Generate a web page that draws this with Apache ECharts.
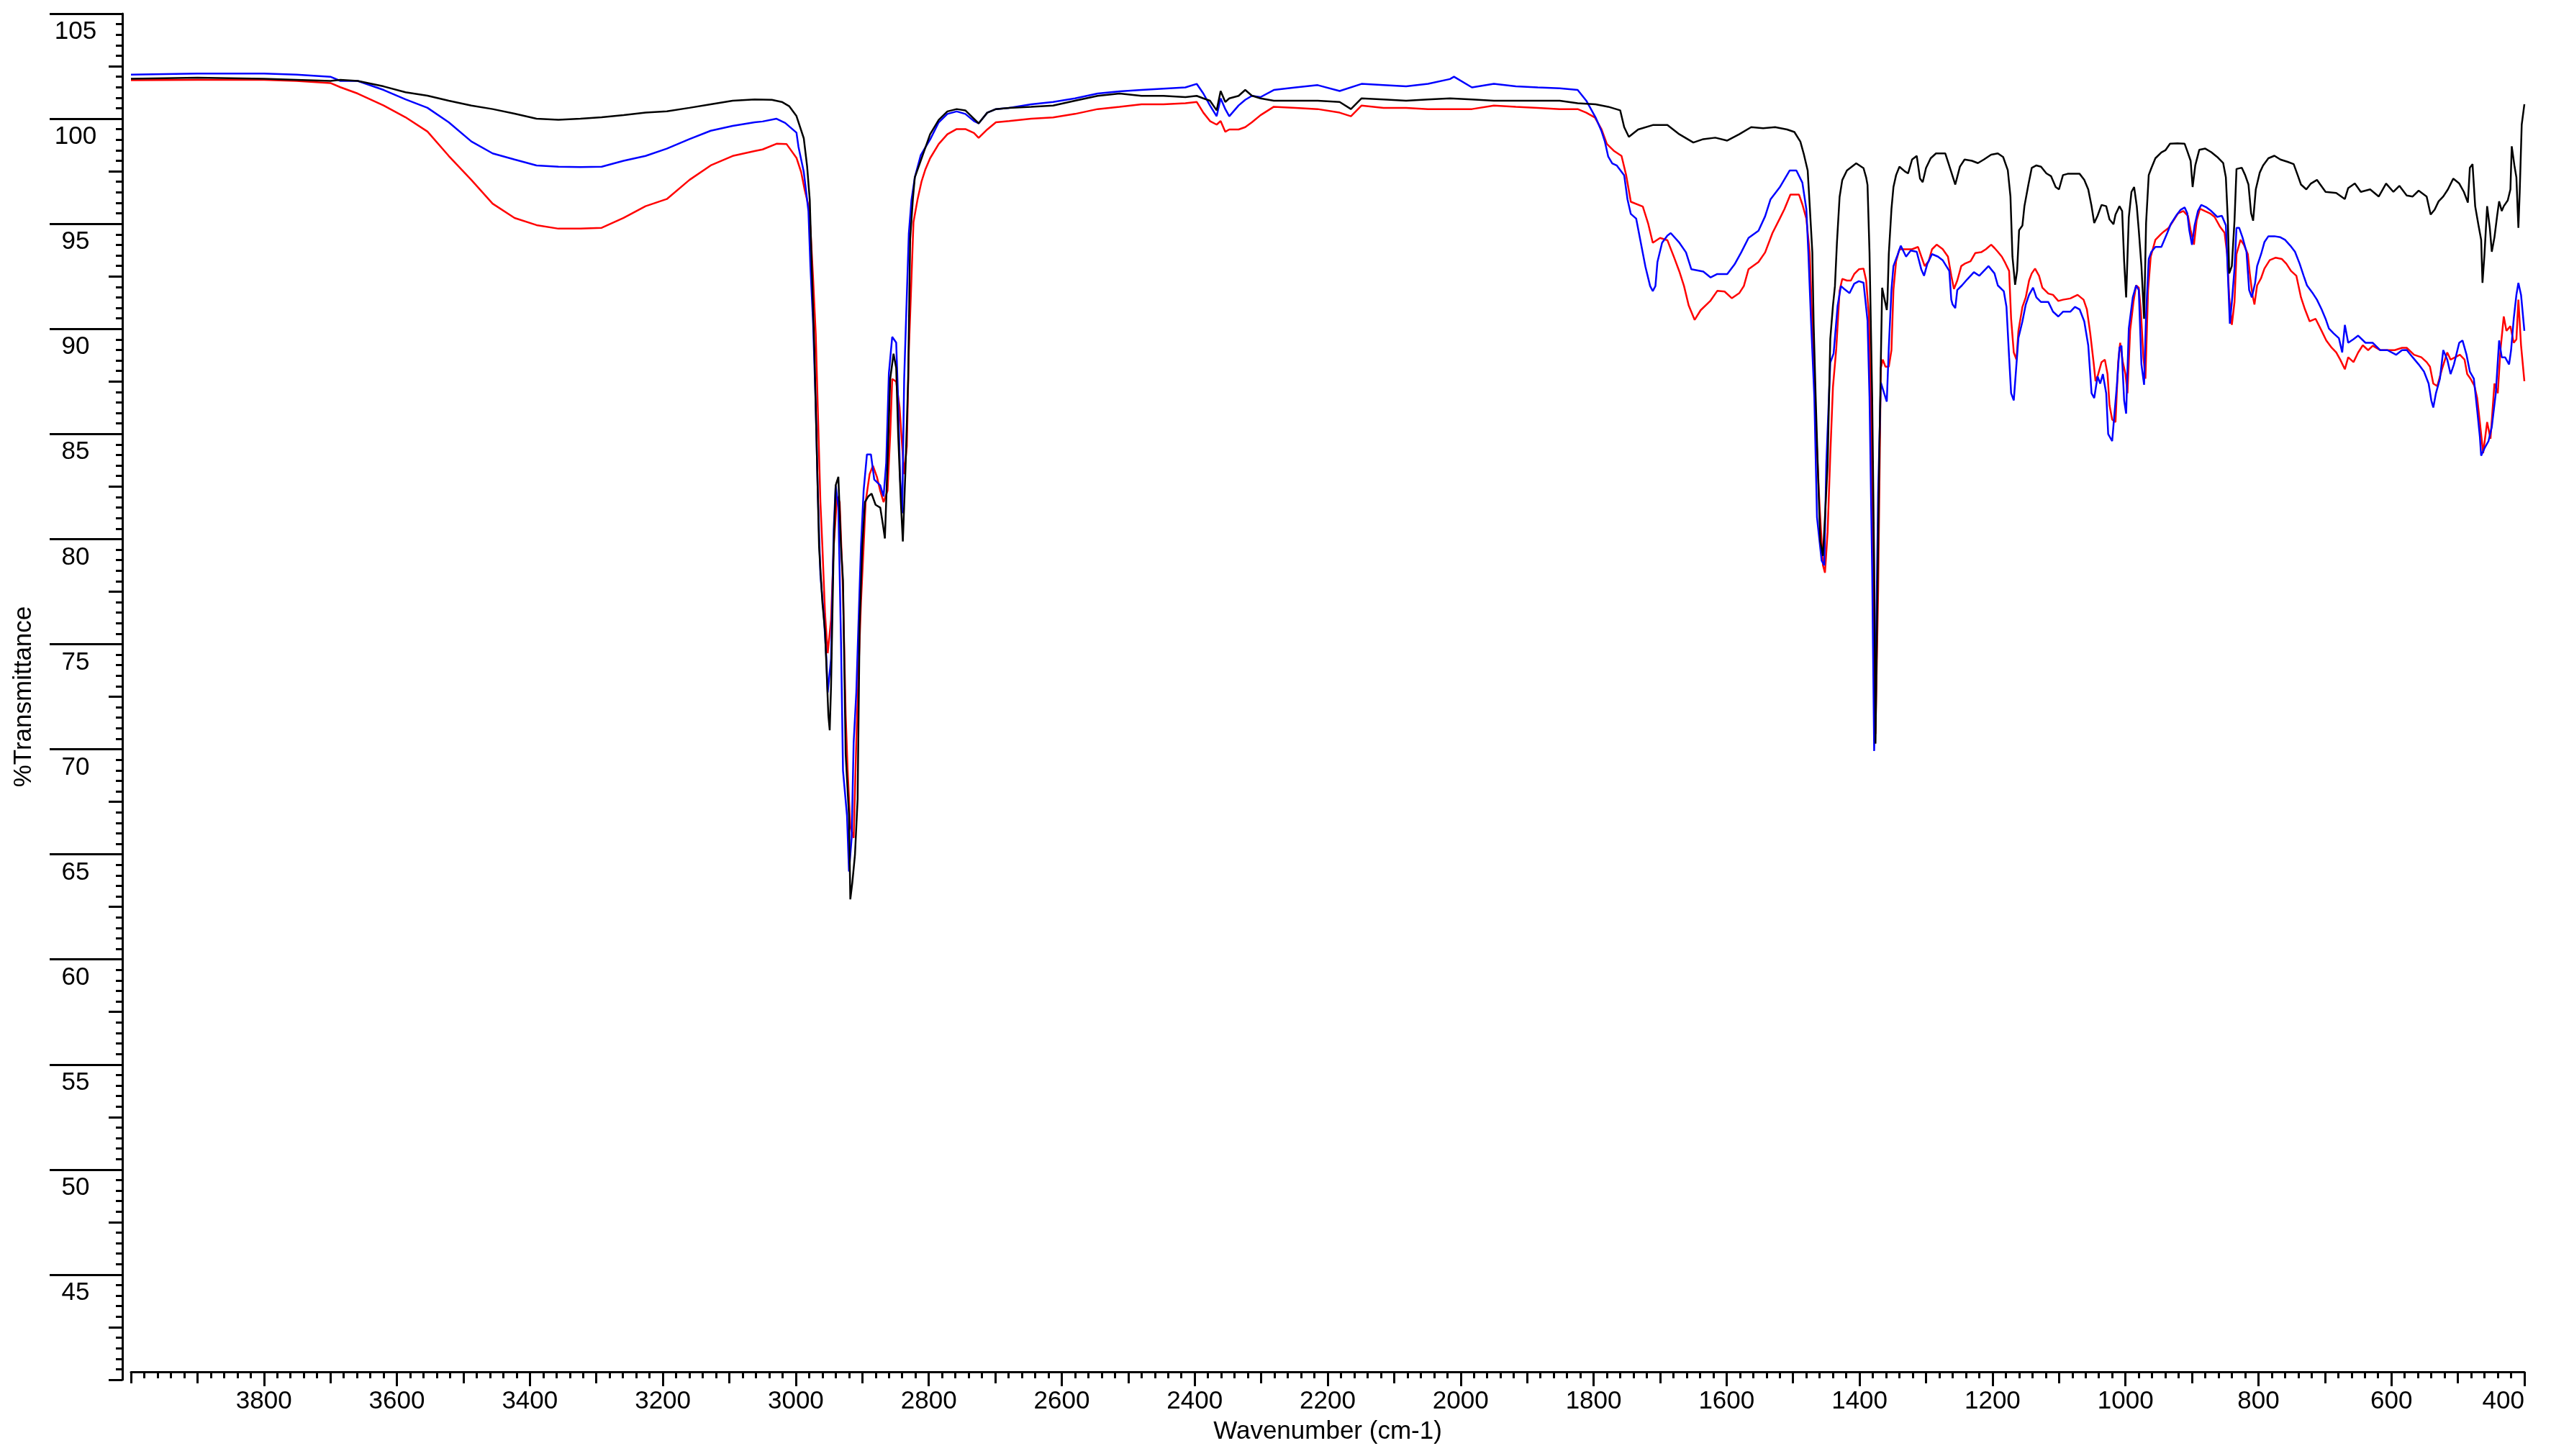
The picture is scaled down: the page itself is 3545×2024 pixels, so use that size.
<!DOCTYPE html>
<html>
<head>
<meta charset="utf-8">
<title>IR spectra</title>
<script src="https://cdn.jsdelivr.net/npm/echarts@6.0.0/dist/echarts.min.js"></script>
<style>
  html, body { margin: 0; padding: 0; background: #fff; }
  #chart { width: 3545px; height: 2024px; }
</style>
</head>
<body>
<div id="chart"></div>
<script>
// [wavenumber, %T]
var blackPts = [[4000,101.9],[3900,101.95],[3800,101.9],[3751,101.85],[3700,101.8],[3685,101.85],[3659,101.8],[3620,101.54],[3587,101.26],[3554,101.1],[3522,100.86],[3488,100.63],[3456,100.46],[3423,100.24],[3390,100.0],[3357,99.95],[3324,100.0],[3292,100.07],[3259,100.17],[3226,100.29],[3194,100.35],[3160,100.52],[3128,100.69],[3095,100.86],[3062,100.92],[3036,100.9],[3021,100.8],[3010,100.6],[2999,100.13],[2988,99.07],[2983,97.74],[2979,96.14],[2976,92.95],[2972,88.95],[2969,84.95],[2965,79.63],[2960,76.97],[2956,75.6],[2951,71.6],[2949,70.9],[2947,72.97],[2943,79.63],[2940,82.56],[2936,82.96],[2932,79.63],[2929,78.03],[2925,69.77],[2920,66.85],[2918,62.86],[2915,63.65],[2911,64.98],[2907,67.65],[2904,75.9],[2900,79.63],[2896,81.76],[2891,82.03],[2886,82.16],[2880,81.63],[2873,81.5],[2869,80.7],[2866,80.03],[2862,83.63],[2858,87.62],[2853,88.82],[2849,88.15],[2846,84.96],[2842,81.76],[2839,79.89],[2835,83.36],[2831,87.62],[2828,94.28],[2824,96.14],[2821,97.21],[2811,98.1],[2798,99.26],[2785,99.95],[2772,100.35],[2758,100.46],[2745,100.4],[2732,100.0],[2725,99.78],[2712,100.29],[2699,100.46],[2679,100.52],[2646,100.57],[2613,100.63],[2580,100.86],[2546,101.09],[2513,101.2],[2480,101.09],[2447,101.09],[2414,101.03],[2397,101.09],[2387,100.97],[2377,100.86],[2367,100.4],[2361,101.32],[2354,100.8],[2348,100.97],[2334,101.09],[2324,101.37],[2314,101.1],[2301,100.97],[2281,100.86],[2248,100.86],[2215,100.86],[2182,100.8],[2165,100.46],[2149,100.97],[2116,100.92],[2082,100.86],[2049,100.92],[2016,100.97],[1983,100.92],[1950,100.86],[1917,100.86],[1884,100.86],[1851,100.86],[1824,100.74],[1797,100.69],[1778,100.57],[1760,100.4],[1754,99.6],[1747,99.14],[1733,99.49],[1711,99.7],[1689,99.7],[1671,99.26],[1650,98.87],[1635,99.03],[1617,99.1],[1599,98.96],[1581,99.26],[1563,99.6],[1545,99.55],[1527,99.6],[1509,99.49],[1498,99.37],[1489,98.91],[1484,98.34],[1478,97.54],[1475,95.9],[1471,93.64],[1469,90.2],[1466,86.77],[1462,82.64],[1459,79.89],[1455,79.2],[1452,81.04],[1448,83.56],[1444,89.52],[1440,91.1],[1437,92.04],[1434,94.1],[1430,96.28],[1426,97.08],[1419,97.54],[1405,97.88],[1394,97.65],[1390,97.2],[1388,96.85],[1385,93.64],[1381,86.77],[1378,78.75],[1376,70.27],[1373,77.6],[1370,84.5],[1368,88.4],[1366,91.96],[1363,91.5],[1359,90.9],[1358,91.4],[1356,93.56],[1352,95.7],[1349,96.75],[1345,97.32],[1340,97.72],[1332,97.5],[1327,97.4],[1321,98.06],[1314,98.23],[1309,97.15],[1305,96.98],[1300,97.66],[1293,98.12],[1285,98.35],[1271,98.35],[1264,97.66],[1256,96.87],[1249,97.72],[1242,98.06],[1231,98.0],[1222,97.89],[1213,98.06],[1202,98.29],[1192,98.35],[1184,98.18],[1177,97.55],[1173,96.3],[1170,93.44],[1166,92.1],[1163,92.76],[1160,94.7],[1155,94.92],[1152,95.84],[1146,96.87],[1141,97.66],[1134,97.78],[1127,97.72],[1119,97.4],[1112,97.27],[1105,96.75],[1100,96.64],[1094,97.32],[1087,97.38],[1076,97.38],[1069,97.38],[1062,97.09],[1056,96.64],[1051,95.84],[1047,95.04],[1042,95.38],[1036,95.9],[1029,95.84],[1024,95.21],[1018,94.98],[1015,95.44],[1009,95.84],[1005,95.61],[1002,93.22],[999,91.5],[995,95.3],[991,96.52],[987,96.75],[983,95.84],[980,94.7],[976,92.99],[972,90.48],[969,95.04],[965,97.32],[961,97.66],[955,98.12],[946,98.4],[940,98.5],[933,98.81],[922,98.83],[911,98.81],[907,98.46],[902,98.0],[899,96.75],[895,97.78],[889,98.52],[880,98.58],[871,98.41],[862,98.18],[853,97.89],[849,97.21],[846,95.15],[844,92.64],[840,92.99],[836,95.15],[833,97.61],[825,97.67],[820,97.32],[815,96.87],[811,95.5],[808,95.15],[804,96.64],[798,97.44],[793,97.78],[785,98.12],[776,98.24],[767,98.06],[756,97.95],[747,97.84],[741,97.32],[736,96.87],[728,96.64],[721,96.92],[712,97.09],[707,96.87],[699,96.52],[683,96.47],[670,96.18],[665,96.7],[655,96.92],[646,96.52],[632,96.64],[619,96.3],[608,96.92],[597,96.52],[588,96.81],[577,96.35],[568,96.3],[559,96.58],[547,96.3],[541,95.44],[535,95.67],[529,96.07],[522,96.3],[515,96.64],[507,97.15],[498,96.92],[491,96.52],[485,96.01],[482,97.67],[478,97.84],[474,95.84],[469,94.93],[465,94.24],[463,92.19],[460,93.56],[456,95.84],[452,94.81],[449,93.67],[445,94.36],[441,95.38],[438,96.07],[434,95.61],[431,95.84],[425,96.12],[421,96.64],[419,98.69],[415,97.78],[412,97.21],[409,94.81],[407,96.52],[404,99.72],[400,100.69]];

var bluePts = [[4000,102.1],[3900,102.15],[3800,102.15],[3751,102.1],[3700,102.0],[3685,101.8],[3659,101.8],[3620,101.37],[3587,100.92],[3554,100.52],[3522,99.83],[3488,98.92],[3456,98.35],[3423,98.06],[3390,97.78],[3357,97.72],[3324,97.7],[3292,97.72],[3259,98.0],[3226,98.23],[3194,98.58],[3160,99.03],[3128,99.43],[3095,99.66],[3062,99.83],[3050,99.87],[3029,100.0],[3016,99.8],[2999,99.34],[2996,98.67],[2988,97.47],[2985,96.67],[2981,95.6],[2978,92.95],[2974,90.28],[2970,86.29],[2967,82.3],[2963,78.3],[2958,76.43],[2954,74.3],[2952,72.7],[2947,74.3],[2943,80.43],[2940,82.56],[2936,81.5],[2932,75.1],[2929,68.98],[2923,66.85],[2920,64.18],[2916,65.78],[2913,70.31],[2909,72.7],[2905,76.7],[2902,79.63],[2898,82.3],[2893,84.03],[2887,84.03],[2882,82.83],[2873,82.56],[2868,82.03],[2864,83.63],[2860,87.89],[2855,89.62],[2849,89.35],[2846,86.55],[2843,82.83],[2840,81.23],[2837,87.62],[2833,91.61],[2830,94.54],[2826,96.14],[2821,97.21],[2812,98.27],[2797,99.07],[2785,99.83],[2772,100.23],[2758,100.35],[2745,100.23],[2732,99.89],[2725,99.78],[2712,100.29],[2699,100.46],[2679,100.52],[2646,100.69],[2613,100.8],[2580,100.97],[2546,101.2],[2513,101.3],[2480,101.37],[2447,101.43],[2414,101.49],[2397,101.66],[2387,101.2],[2377,100.63],[2367,100.12],[2361,100.97],[2354,100.46],[2348,100.12],[2334,100.63],[2324,100.9],[2314,101.09],[2301,101.03],[2281,101.37],[2248,101.49],[2215,101.6],[2182,101.32],[2149,101.66],[2116,101.6],[2082,101.54],[2049,101.66],[2016,101.89],[2010,102.0],[1983,101.49],[1950,101.66],[1917,101.54],[1884,101.49],[1851,101.45],[1824,101.37],[1811,100.86],[1797,100.06],[1788,99.4],[1783,98.91],[1778,98.2],[1772,97.88],[1765,97.77],[1754,97.31],[1749,96.16],[1744,95.47],[1736,95.25],[1729,94.1],[1722,92.95],[1715,92.04],[1711,91.8],[1707,92.04],[1704,93.18],[1697,94.1],[1689,94.44],[1684,94.56],[1671,94.1],[1661,93.64],[1653,92.84],[1635,92.73],[1624,92.45],[1614,92.61],[1599,92.61],[1588,93.07],[1578,93.64],[1567,94.33],[1552,94.67],[1542,95.36],[1534,96.16],[1520,96.74],[1505,97.54],[1495,97.54],[1486,96.96],[1480,95.7],[1477,93.64],[1473,90.4],[1468,86.77],[1464,81.04],[1457,78.97],[1453,78.75],[1450,83.56],[1444,88.4],[1439,88.83],[1433,91.1],[1428,92.04],[1423,91.9],[1415,91.7],[1408,92.15],[1401,92.27],[1394,92.2],[1388,90.4],[1385,86.77],[1381,78.52],[1378,69.92],[1375,75.3],[1372,82.2],[1368,87.45],[1363,86.94],[1359,86.54],[1356,89.11],[1352,91.85],[1349,92.99],[1343,93.5],[1338,93.96],[1330,93.44],[1323,93.73],[1314,93.67],[1307,92.82],[1303,92.53],[1298,93.1],[1291,93.56],[1282,93.44],[1275,93.27],[1265,92.76],[1262,91.39],[1260,91.16],[1256,90.99],[1253,91.85],[1246,92.07],[1238,92.36],[1228,92.7],[1220,92.53],[1213,92.76],[1206,92.99],[1197,92.64],[1192,92.07],[1183,91.79],[1179,91.05],[1175,88.65],[1172,86.94],[1168,86.6],[1164,88.31],[1161,89.57],[1155,90.36],[1150,91.16],[1145,91.62],[1139,91.96],[1134,91.5],[1127,91.28],[1116,91.28],[1109,90.82],[1101,90.59],[1094,90.82],[1083,90.82],[1076,91.05],[1069,90.93],[1062,90.36],[1056,89.22],[1051,86.94],[1047,86.71],[1042,87.74],[1038,87.4],[1034,87.85],[1029,86.94],[1026,85.0],[1020,84.66],[1017,85.8],[1013,87.28],[1009,89.11],[1006,89.2],[1002,86.6],[999,85.97],[995,90.02],[989,91.5],[984,92.07],[980,91.85],[976,88.31],[972,87.34],[969,90.7],[965,93.33],[961,93.67],[955,93.9],[946,93.9],[937,94.58],[932,94.98],[924,95.38],[917,95.67],[911,95.78],[907,95.5],[904,94.7],[900,94.0],[896,94.93],[891,95.61],[886,95.9],[879,95.8],[871,95.61],[862,95.33],[855,95.38],[849,94.93],[846,92.64],[843,90.25],[840,91.28],[836,92.87],[833,94.81],[829,94.81],[824,94.36],[818,93.67],[814,91.85],[810,91.5],[805,92.19],[802,92.99],[796,93.56],[791,94.13],[785,94.41],[776,94.41],[767,94.36],[760,94.24],[752,93.96],[745,93.67],[738,93.1],[732,92.53],[727,92.07],[719,91.73],[712,91.39],[705,90.93],[699,90.48],[694,90.02],[687,89.79],[679,89.56],[674,88.88],[670,90.19],[665,89.34],[657,89.51],[650,89.68],[639,89.34],[628,89.34],[617,88.99],[606,88.99],[593,88.77],[584,88.99],[577,89.0],[568,88.65],[559,88.31],[551,87.97],[544,87.4],[540,86.6],[537,86.26],[533,86.94],[527,87.63],[522,88.99],[516,88.54],[511,87.85],[506,88.31],[498,89.34],[493,89.45],[487,88.77],[482,87.97],[476,87.63],[471,86.14],[467,84.89],[465,83.97],[460,84.32],[454,84.66],[449,85.34],[443,86.94],[438,89.45],[434,88.65],[429,88.65],[423,88.31],[420,88.99],[416,90.48],[412,91.62],[409,92.19],[405,91.62],[400,89.91]];

var redPts = [[4000,101.83],[3900,101.85],[3800,101.85],[3751,101.8],[3700,101.7],[3685,101.5],[3659,101.2],[3620,100.63],[3587,100.07],[3554,99.39],[3522,98.23],[3488,97.09],[3456,95.96],[3423,95.28],[3390,94.94],[3357,94.77],[3324,94.77],[3292,94.81],[3259,95.28],[3226,95.84],[3194,96.18],[3160,97.09],[3128,97.78],[3095,98.23],[3062,98.46],[3050,98.54],[3029,98.81],[3014,98.8],[2999,98.14],[2992,97.47],[2987,96.67],[2981,95.87],[2978,94.81],[2974,92.41],[2970,89.75],[2967,86.29],[2963,81.76],[2960,79.63],[2956,76.43],[2952,74.57],[2947,76.17],[2943,79.63],[2938,82.03],[2934,81.76],[2929,77.5],[2925,71.64],[2922,68.98],[2918,66.32],[2913,65.78],[2909,70.31],[2905,74.3],[2902,76.97],[2898,79.63],[2895,81.76],[2889,83.09],[2884,83.49],[2878,82.96],[2873,82.3],[2868,81.76],[2862,82.3],[2858,84.96],[2855,87.62],[2849,87.49],[2844,86.29],[2840,84.42],[2837,83.09],[2833,84.42],[2830,88.95],[2826,92.41],[2823,95.08],[2817,96.14],[2811,97.0],[2805,97.6],[2798,98.12],[2785,98.8],[2772,99.26],[2758,99.51],[2745,99.51],[2732,99.32],[2725,99.09],[2712,99.49],[2699,99.83],[2679,99.89],[2646,100.0],[2613,100.06],[2580,100.23],[2546,100.46],[2513,100.57],[2480,100.69],[2447,100.69],[2414,100.74],[2397,100.8],[2387,100.29],[2377,99.89],[2367,99.72],[2361,99.89],[2354,99.38],[2348,99.49],[2334,99.49],[2324,99.6],[2314,99.83],[2301,100.17],[2281,100.57],[2248,100.52],[2215,100.46],[2182,100.29],[2165,100.12],[2149,100.63],[2116,100.52],[2082,100.52],[2049,100.46],[2016,100.46],[1983,100.46],[1950,100.63],[1917,100.57],[1884,100.52],[1851,100.46],[1824,100.46],[1811,100.29],[1798,100.06],[1788,99.49],[1780,98.8],[1769,98.46],[1758,98.23],[1751,97.31],[1744,96.05],[1726,95.82],[1718,95.02],[1711,94.1],[1700,94.33],[1689,94.22],[1679,93.41],[1671,92.73],[1664,92.04],[1657,91.12],[1648,90.43],[1639,90.89],[1624,91.35],[1614,91.81],[1603,91.78],[1592,91.46],[1581,91.7],[1574,92.04],[1567,92.84],[1552,93.18],[1542,93.64],[1531,94.56],[1520,95.25],[1513,95.7],[1504,96.39],[1491,96.39],[1486,95.93],[1480,95.25],[1475,93.64],[1471,90.2],[1466,85.62],[1460,81.5],[1455,78.75],[1452,78.4],[1448,80.35],[1444,84.02],[1440,87.23],[1435,89.06],[1430,91.81],[1426,92.38],[1419,92.3],[1413,92.3],[1408,92.61],[1401,92.84],[1394,92.87],[1390,92.3],[1386,90.7],[1383,86.77],[1379,78.75],[1376,70.73],[1372,77.6],[1368,88.14],[1365,88.54],[1361,88.2],[1356,88.2],[1352,88.99],[1349,91.85],[1345,93.22],[1340,93.79],[1330,93.79],[1321,93.79],[1312,93.9],[1307,93.44],[1302,92.99],[1296,93.22],[1291,93.79],[1284,94.01],[1275,93.8],[1267,93.44],[1262,92.53],[1258,91.9],[1253,92.3],[1247,92.99],[1242,93.1],[1233,93.22],[1226,93.61],[1217,93.65],[1210,93.79],[1202,94.01],[1197,93.85],[1192,93.67],[1186,93.44],[1181,93.15],[1175,92.76],[1172,90.48],[1168,88.88],[1164,88.54],[1161,89.91],[1155,91.05],[1150,91.5],[1145,92.3],[1141,92.64],[1136,92.87],[1130,92.53],[1125,91.96],[1116,91.68],[1109,91.62],[1101,91.33],[1094,91.39],[1083,91.45],[1072,91.62],[1063,91.39],[1058,90.93],[1053,89.79],[1048,88.42],[1045,87.51],[1042,87.74],[1036,88.42],[1031,88.54],[1027,87.85],[1024,86.37],[1020,85.69],[1015,85.57],[1011,88.42],[1008,89.34],[1004,88.42],[1000,87.85],[997,86.94],[993,89.91],[988,91.28],[984,92.07],[980,91.96],[977,90.93],[973,88.65],[970,87.63],[966,91.85],[962,93.44],[955,94.24],[946,94.53],[942,94.64],[935,94.81],[928,95.15],[921,95.5],[913,95.61],[906,95.38],[902,94.7],[897,94.01],[893,95.15],[888,95.72],[880,95.6],[873,95.5],[866,95.33],[858,94.87],[851,94.58],[847,93.56],[844,91.5],[840,90.19],[836,91.28],[833,93.56],[827,94.24],[822,94.01],[816,93.56],[813,92.64],[809,91.62],[806,91.16],[802,92.07],[796,92.42],[791,92.87],[783,93.27],[774,93.39],[765,93.33],[758,93.1],[751,92.76],[743,92.53],[736,91.5],[730,90.93],[723,90.36],[714,90.48],[705,89.91],[698,89.45],[690,89.11],[683,88.88],[677,88.54],[670,88.08],[665,88.65],[657,88.42],[650,88.88],[643,89.22],[635,88.99],[628,89.2],[617,88.99],[606,88.99],[595,88.99],[584,89.1],[577,89.1],[566,88.77],[555,88.65],[547,88.42],[542,88.2],[537,87.4],[531,87.28],[524,88.08],[516,88.88],[511,88.54],[504,88.65],[497,88.77],[490,88.54],[486,87.85],[481,87.63],[475,87.28],[471,86.71],[467,85.57],[462,84.09],[456,85.57],[451,84.77],[445,87.4],[440,86.94],[436,88.99],[431,90.59],[427,89.91],[421,90.13],[416,89.34],[412,89.5],[409,91.39],[405,89.22],[400,87.51]];

var yLabelValues = [45, 50, 55, 60, 65, 70, 75, 80, 85, 90, 95, 100, 105];

var font = '"Liberation Sans", Arial, sans-serif';
var ink = '#000';

var chart = echarts.init(document.getElementById('chart'), null, { renderer: 'canvas' });

chart.setOption({
  animation: false,
  backgroundColor: '#fff',
  grid: { left: 182, right: 37, top: 19, bottom: 106 },
  xAxis: [
    {
      type: 'value', min: 400, max: 4000, interval: 200, inverse: true,
      position: 'bottom', offset: -11,
      name: 'Wavenumber (cm-1)', nameLocation: 'middle', nameGap: 66,
      nameTextStyle: { color: ink, fontSize: 35, fontFamily: font },
      axisLine: { show: true, lineStyle: { color: ink, width: 3 } },
      axisTick: { show: true, length: 20, lineStyle: { color: ink, width: 3 } },
      axisLabel: {
        color: ink, fontSize: 35, fontFamily: font, margin: 24,
        showMaxLabel: false, alignMinLabel: 'right',
        formatter: function (v) { return String(v); }
      },
      splitLine: { show: false }
    },
    {
      type: 'value', min: 400, max: 4000, interval: 100, inverse: true,
      position: 'bottom', offset: -11,
      axisLine: { show: false },
      axisTick: { show: true, length: 16, lineStyle: { color: ink, width: 3 } },
      minorTick: { show: true, splitNumber: 5, length: 9, lineStyle: { color: ink, width: 3 } },
      axisLabel: { show: false },
      splitLine: { show: false }
    }
  ],
  yAxis: [
    {
      type: 'value', min: 40, max: 105, interval: 5,
      position: 'left', offset: 12,
      name: '%Transmittance', nameLocation: 'middle', nameGap: 119, nameRotate: 90,
      nameTextStyle: { color: ink, fontSize: 35, fontFamily: font },
      axisLine: { show: true, lineStyle: { color: ink, width: 3 } },
      axisTick: { show: true, length: 101, customValues: yLabelValues, lineStyle: { color: ink, width: 3 } },
      axisLabel: {
        color: ink, fontSize: 35, fontFamily: font, margin: 65,
        align: 'center', verticalAlign: 'top', padding: [8, 0, 0, 0],
        customValues: yLabelValues,
        formatter: function (v) { return String(v); }
      },
      splitLine: { show: false }
    },
    {
      type: 'value', min: 40, max: 105, interval: 2.5,
      position: 'left', offset: 12,
      axisLine: { show: false },
      axisTick: { show: true, length: 19, lineStyle: { color: ink, width: 3 } },
      minorTick: { show: true, splitNumber: 5, length: 9, lineStyle: { color: ink, width: 3 } },
      axisLabel: { show: false },
      splitLine: { show: false }
    }
  ],
  series: [
    { name: 'red', type: 'line', data: redPts, symbol: 'none', lineStyle: { color: '#ff0000', width: 2.5 }, xAxisIndex: 0, yAxisIndex: 0 },
    { name: 'blue', type: 'line', data: bluePts, symbol: 'none', lineStyle: { color: '#0000ff', width: 2.5 }, xAxisIndex: 0, yAxisIndex: 0 },
    { name: 'black', type: 'line', data: blackPts, symbol: 'none', lineStyle: { color: '#000000', width: 2.5 }, xAxisIndex: 0, yAxisIndex: 0 }
  ]
});
</script>
</body>
</html>
